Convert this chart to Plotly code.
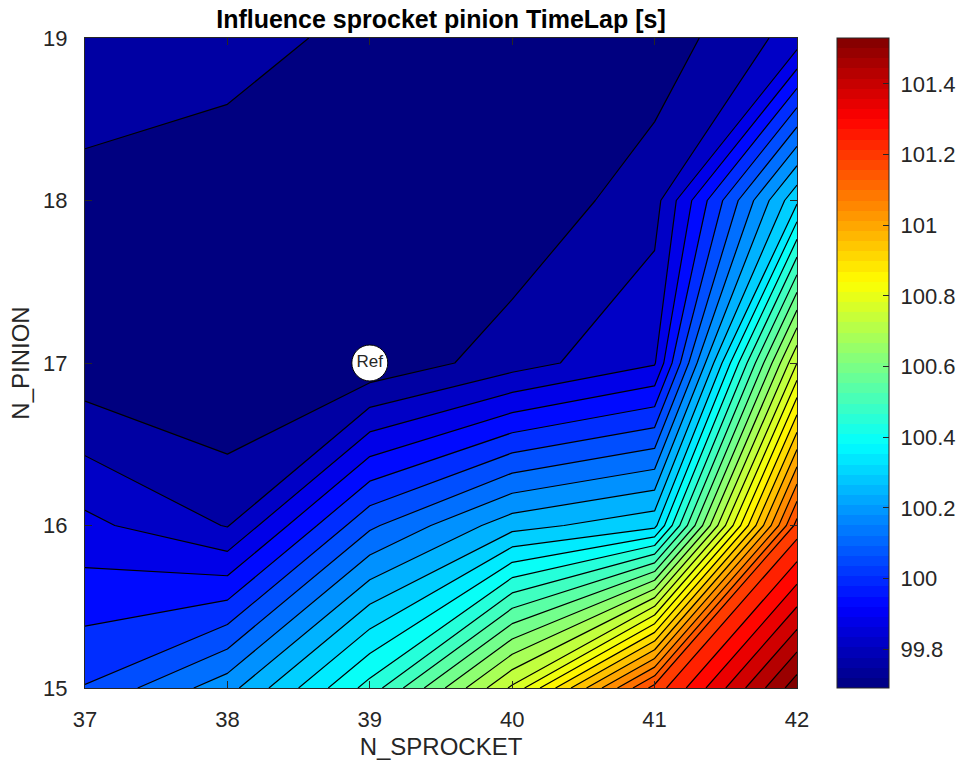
import numpy as np
import plotly.graph_objects as go

# ---------------- data ----------------
sprocket = [37, 38, 39, 40, 41, 42]
pinion = [15, 16, 17, 18, 19]
# lap time [s] on the (pinion, sprocket) grid; one row per pinion value
lap_p15 = [100.003, 100.13, 100.37, 100.71, 101.17, 101.53]
lap_p16 = [99.864, 99.797, 100.04, 100.18, 100.235, 101.17]
lap_p17 = [99.715, 99.69, 99.71, 99.777, 99.845, 100.70]
lap_p18 = [99.736, 99.721, 99.695, 99.708, 99.78, 100.24]
lap_p19 = [99.78, 99.77, 99.735, 99.71, 99.718, 99.82]
lap = [lap_p15, lap_p16, lap_p17, lap_p18, lap_p19]

ref_sprocket = [39]
ref_pinion = [17]
ref_label = ["Ref"]

cbar_ticks = [99.8, 100.0, 100.2, 100.4, 100.6, 100.8, 101.0, 101.2, 101.4]
cbar_labels = ["99.8", "100", "100.2", "100.4", "100.6", "100.8", "101", "101.2", "101.4"]

# ---------------- style ----------------
zmin = min(min(r) for r in lap)
zmax = max(max(r) for r in lap)

def jet(t):
    c = lambda v: max(0.0, min(1.0, v))
    r = c(min(4 * t - 1.5, -4 * t + 4.5))
    g = c(min(4 * t - 0.5, -4 * t + 3.5))
    b = c(min(4 * t + 0.5, -4 * t + 2.5))
    return "rgb(%d,%d,%d)" % (round(r * 255), round(g * 255), round(b * 255))

# band colours: MATLAB-like jet, slightly warped to match contourf's band colouring
warp_s = [0, 0.06, 0.25, 0.36, 0.5, 0.64, 1]
warp_t = [0, 0.075, 0.30, 0.41, 0.54, 0.66, 1]
fill_scale = [[s, jet(float(np.interp(s, warp_s, warp_t)))] for s in np.linspace(0, 1, 101)]

jet_steps = []
for i in range(64):
    col = jet((i + 0.5) / 64)
    jet_steps.append([i / 64, col])
    jet_steps.append([(i + 1) / 64, col])

FONT = "Liberation Sans, Arial, Helvetica, sans-serif"
TXT = "#262626"
NB = "\u00a0"

fig = go.Figure()
fig.add_trace(go.Contour(
    x=sprocket, y=pinion, z=lap,
    colorscale=fill_scale,
    contours=dict(start=99.75, end=101.50, size=0.05, coloring="fill", showlines=True),
    line=dict(color="black", width=1.2, smoothing=0),
    showscale=False, hoverinfo="skip",
))
fig.add_trace(go.Scatter(
    x=ref_sprocket, y=ref_pinion, text=ref_label,
    mode="markers+text", textposition="middle center",
    marker=dict(size=36, color="white", line=dict(color="black", width=1)),
    textfont=dict(family=FONT, size=17, color=TXT),
    showlegend=False, hoverinfo="skip",
))
# colorbar (MATLAB-like 64-step jet spanning data min..max)
fig.add_trace(go.Scatter(
    x=[None], y=[None], mode="markers",
    marker=dict(color=[zmin, zmax], cmin=zmin, cmax=zmax, colorscale=jet_steps,
                showscale=True,
                colorbar=dict(
                    x=1.056, xanchor="left", xref="paper",
                    y=0.5, yanchor="middle", len=1, lenmode="fraction",
                    thickness=52, thicknessmode="pixels",
                    outlinecolor=TXT, outlinewidth=1,
                    ticks="inside", ticklen=6, tickcolor=TXT,
                    tickvals=cbar_ticks, ticktext=[NB + t for t in cbar_labels],
                    tickfont=dict(family=FONT, size=22, color=TXT),
                    xpad=0, ypad=0,
                )),
    showlegend=False, hoverinfo="skip",
))

axis_common = dict(
    showgrid=False, zeroline=False, showline=True, linecolor=TXT, linewidth=1,
    mirror="ticks", ticks="inside", ticklen=7, tickcolor=TXT,
    tickfont=dict(family=FONT, size=22, color=TXT),
)
fig.update_layout(
    width=960, height=772,
    margin=dict(l=85, r=163, t=38, b=84, autoexpand=False),
    paper_bgcolor="white", plot_bgcolor="white",
    title=dict(text="<b>Influence sprocket pinion TimeLap [s]</b>",
               x=(85 + 797) / 2 / 960, xanchor="center", y=1 - 19 / 772, yanchor="middle",
               font=dict(family=FONT, size=25, color="black")),
    xaxis=dict(range=[37, 42], dtick=1, ticklabelstandoff=12,
               title=dict(text="N_SPROCKET", standoff=6,
                          font=dict(family=FONT, size=24, color=TXT)), **axis_common),
    yaxis=dict(range=[15, 19], dtick=1, ticklabelstandoff=12,
               title=dict(text="N_PINION", standoff=6,
                          font=dict(family=FONT, size=24, color=TXT)), **axis_common),
    showlegend=False,
)
fig.write_html("out.html")
